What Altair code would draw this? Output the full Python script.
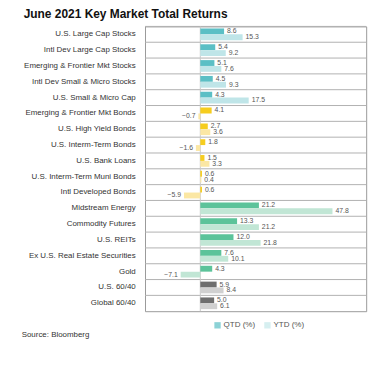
import altair as alt
import pandas as pd

FONT = "Liberation Sans, Arial, sans-serif"

categories = [
    "U.S. Large Cap Stocks",
    "Intl Dev Large Cap Stocks",
    "Emerging & Frontier Mkt Stocks",
    "Intl Dev Small & Micro Stocks",
    "U.S. Small & Micro Cap",
    "Emerging & Frontier Mkt Bonds",
    "U.S. High Yield Bonds",
    "U.S. Interm-Term Bonds",
    "U.S. Bank Loans",
    "U.S. Interm-Term Muni Bonds",
    "Intl Developed Bonds",
    "Midstream Energy",
    "Commodity Futures",
    "U.S. REITs",
    "Ex U.S. Real Estate Securities",
    "Gold",
    "U.S. 60/40",
    "Global 60/40",
]
groups = ["Stocks"] * 5 + ["Bonds"] * 6 + ["Real"] * 5 + ["Balanced"] * 2
qtd = [8.6, 5.4, 5.1, 4.5, 4.3, 4.1, 2.7, 1.8, 1.5, 0.6, 0.6, 21.2, 13.3, 12.0, 7.6, 4.3, 5.9, 5.0]
ytd = [15.3, 9.2, 7.6, 9.3, 17.5, -0.7, 3.6, -1.6, 3.3, 0.4, -5.9, 47.8, 21.2, 21.8, 10.1, -7.1, 8.4, 6.1]
series_names = ["QTD (%)", "YTD (%)"]

group_order = ["Stocks", "Bonds", "Real", "Balanced"]
qtd_colors = ["#5bbfc5", "#f6cd1e", "#5cc39a", "#6e6e6e"]
ytd_colors = ["#bfe5e8", "#fbe7a4", "#c1e6d5", "#d0d0d0"]

rows = []
for c, g, q, y in zip(categories, groups, qtd, ytd):
    rows.append({"cat": c, "group": g, "series": series_names[0], "value": q, "key": g + "|QTD"})
    rows.append({"cat": c, "group": g, "series": series_names[1], "value": y, "key": g + "|YTD"})
df = pd.DataFrame(rows)

key_domain = []
key_range = []
for g, qc, yc in zip(group_order, qtd_colors, ytd_colors):
    key_domain += [g + "|QTD", g + "|YTD"]
    key_range += [qc, yc]

W, H = 226, 291

yaxis = alt.Axis(title=None, domain=False, ticks=False, grid=False, labelPadding=10,
                 labelFontSize=8.1, labelColor="#333", labelFont=FONT, labelLimit=220)
yscale = alt.Scale(paddingInner=0, paddingOuter=0)
ysc = alt.Y("cat:N", sort=categories, scale=yscale, axis=yaxis)
xsc = alt.X("value:Q", scale=alt.Scale(domain=[-20, 60], nice=False), axis=None)
yoff = alt.YOffset("series:N", sort=series_names, scale=alt.Scale(paddingOuter=0.35, paddingInner=0))

base = alt.Chart(df)

seps = alt.Chart(pd.DataFrame({"cat": categories})).mark_rule(color="#b0b0b0", strokeWidth=1).encode(
    y=alt.Y("cat:N", sort=categories, scale=yscale, axis=yaxis, bandPosition=0),
    x=alt.value(0), x2=alt.value(W),
)

zero = alt.Chart(pd.DataFrame({"z": [0]})).mark_rule(color="#c8c8c8", strokeWidth=1).encode(
    x=alt.X("z:Q", scale=alt.Scale(domain=[-20, 60], nice=False), axis=None)
)

bars = base.mark_bar().encode(
    x=xsc, y=ysc, yOffset=yoff,
    color=alt.Color("key:N", scale=alt.Scale(domain=key_domain, range=key_range), legend=None),
)

txt_pos = base.transform_filter("datum.value >= 0").mark_text(
    align="left", baseline="middle", dx=3, fontSize=7, color="#555", font=FONT
).encode(x=xsc, y=ysc, yOffset=yoff, text=alt.Text("value:Q", format=".1f"))

txt_neg = base.transform_filter("datum.value < 0").mark_text(
    align="right", baseline="middle", dx=-3, fontSize=7, color="#555", font=FONT
).encode(x=xsc, y=ysc, yOffset=yoff, text=alt.Text("value:Q", format=".1f"))

legend_layer = base.transform_filter("false").mark_square().encode(
    x=xsc, y=ysc,
    color=alt.Color("series:N",
                    scale=alt.Scale(domain=series_names, range=[qtd_colors[0], "#c5e8ea"]),
                    legend=alt.Legend(orient="none", legendX=70, legendY=301, direction="horizontal",
                                      title=None, symbolType="square", symbolSize=42,
                                      symbolStrokeWidth=0, labelFontSize=8.2, labelColor="#555",
                                      labelFont=FONT, columnPadding=8, labelOffset=2)),
)

source = alt.Chart(pd.DataFrame({"t": ["Source: Bloomberg"]})).mark_text(
    align="left", baseline="middle", fontSize=8.1, color="#333", font=FONT
).encode(x=alt.value(-126), y=alt.value(315), text="t:N")

chart = alt.layer(seps, zero, bars, txt_pos, txt_neg, legend_layer, source).resolve_scale(
    color="independent"
).properties(
    width=W, height=H,
    title=alt.Title("June 2021 Key Market Total Returns", anchor="start", frame="group", dx=-124,
                    offset=6, fontSize=12.2, font="Liberation Sans, Arial, sans-serif",
                    fontWeight="bold", color="#111"),
    autosize=alt.AutoSizeParams(type="none"),
    padding={"left": 140, "top": 15, "right": 9, "bottom": 44},
).configure_view(stroke="#999", strokeWidth=1)

chart.save("out.html", embed_options={"renderer": "svg", "actions": False})
